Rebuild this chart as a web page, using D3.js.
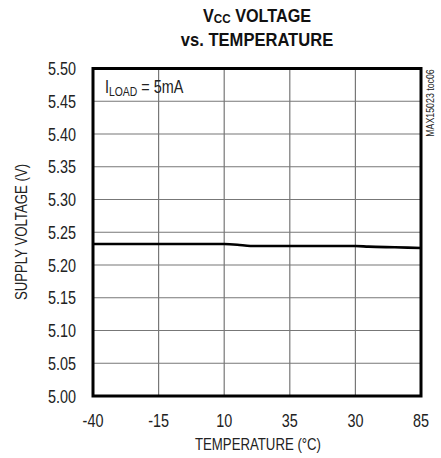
<!DOCTYPE html>
<html><head><meta charset="utf-8">
<script src="https://cdn.jsdelivr.net/npm/d3@7/dist/d3.min.js"></script>
<style>body{margin:0;background:#fff}svg{display:block}text{font-family:"Liberation Sans",Arial,sans-serif;fill:#222}</style>
</head><body><svg id="c" width="441" height="458"></svg>
<script>
const xTickValues = [-40, -15, 10, 35, 60, 85];
const xTickLabels = ["-40", "-15", "10", "35", "30", "85"];
const yTickValues = [5.00, 5.05, 5.10, 5.15, 5.20, 5.25, 5.30, 5.35, 5.40, 5.45, 5.50];
const tempC = [-40, -15, 10, 15, 20, 35, 60, 65, 75, 85];
const vcc = [5.232, 5.232, 5.232, 5.231, 5.229, 5.229, 5.229, 5.228, 5.227, 5.226];

const svg = d3.select("#c");
const m = {l: 93, r: 421, t: 68.5, b: 396};
const x = d3.scaleLinear().domain([-40, 85]).range([m.l, m.r]);
const y = d3.scaleLinear().domain([5.0, 5.5]).range([m.b, m.t]);
const SX = 0.8; // condensed look

function txt(parent, px, py, size, anchor, sx) {
  return parent.append("text")
    .attr("transform", `translate(${px},${py}) scale(${sx},1)`)
    .attr("text-anchor", anchor).attr("font-size", size);
}

// grid
svg.append("g").selectAll("line").data(yTickValues.slice(1, -1)).join("line")
  .attr("x1", m.l).attr("x2", m.r).attr("y1", d => y(d)).attr("y2", d => y(d))
  .attr("stroke", "#777").attr("stroke-width", 1.2);
svg.append("g").selectAll("line").data(xTickValues.slice(1, -1)).join("line")
  .attr("y1", m.t).attr("y2", m.b).attr("x1", d => x(d)).attr("x2", d => x(d))
  .attr("stroke", "#777").attr("stroke-width", 1.2);

// data line
svg.append("path").datum(tempC.map((t, i) => [t, vcc[i]]))
  .attr("fill", "none").attr("stroke", "#000").attr("stroke-width", 2.6)
  .attr("d", d3.line().x(d => x(d[0])).y(d => y(d[1])).curve(d3.curveMonotoneX));

// frame
svg.append("rect").attr("x", m.l).attr("y", m.t).attr("width", m.r - m.l).attr("height", m.b - m.t)
  .attr("fill", "none").attr("stroke", "#000").attr("stroke-width", 3);

// y tick labels
const gy = svg.append("g");
yTickValues.forEach(v => {
  txt(gy, 76, y(v) + 6.5, 18, "end", SX).text(d3.format(".2f")(v));
});
// x tick labels
const gx = svg.append("g");
xTickValues.forEach((v, i) => {
  txt(gx, x(v), 426.5, 18, "middle", SX).text(xTickLabels[i]);
});

// titles
const t1 = txt(svg, 257, 21.5, 18, "middle", 0.9).attr("font-weight", "bold").style("fill", "#111");
t1.append("tspan").text("V");
t1.append("tspan").attr("font-size", 13).attr("dy", 1.5).text("CC");
t1.append("tspan").attr("dy", -1.5).text(" VOLTAGE");
txt(svg, 257, 45.5, 18, "middle", 0.92).attr("font-weight", "bold").style("fill", "#111").text("vs. TEMPERATURE");

txt(svg, 258, 450, 16.5, "middle", SX).text("TEMPERATURE (°C)");
svg.append("text").attr("transform", "translate(27,232) rotate(-90) scale(0.8,1)").attr("text-anchor", "middle")
  .attr("font-size", 16.5).text("SUPPLY VOLTAGE (V)");

// legend
const lg = txt(svg, 105, 93, 18, "start", SX);
lg.append("tspan").text("I");
lg.append("tspan").attr("font-size", 13).attr("dy", 3).text("LOAD");
lg.append("tspan").attr("dy", -3).text(" = 5mA");

svg.append("text").attr("transform", "translate(433.5,103) rotate(-90) scale(0.8,1)").attr("text-anchor", "middle")
  .attr("font-size", 11).text("MAX15023 toc06");
</script></body></html>
